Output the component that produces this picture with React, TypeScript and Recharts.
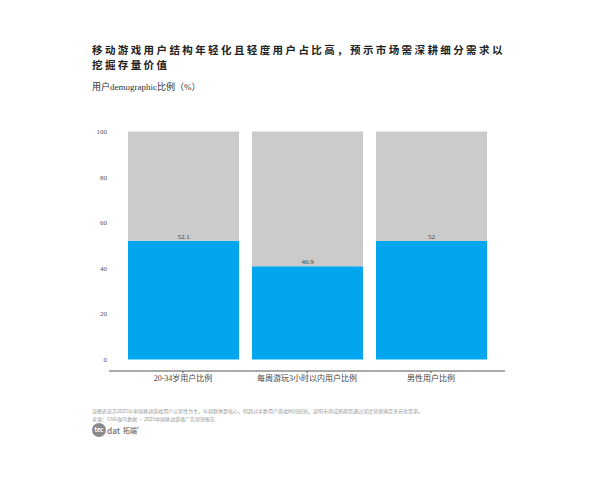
import { BarChart, Bar, XAxis, YAxis, LabelList } from 'recharts';

// categories and share values (%)
const categories = ['20-34岁用户比例', '每周游玩3小时以内用户比例', '男性用户比例'];
const shares = [52.1, 40.9, 52];
const yTicks = [0, 20, 40, 60, 80, 100];

const data = categories.map((name, i) => ({
  name,
  value: shares[i],
  rest: 100 - shares[i],
}));

const serif = '"Liberation Serif", "DejaVu Serif", "Noto Sans CJK SC", serif';
const cjk = '"Noto Sans CJK SC", sans-serif';

const titleStyle = {
  position: 'absolute' as const,
  left: 92,
  fontFamily: cjk,
  fontSize: 10.5,
  lineHeight: '11px',
  letterSpacing: 2.4,
  fontWeight: 600,
  color: '#222',
  whiteSpace: 'nowrap' as const,
};

export default function App() {
  return (
    <div style={{ position: 'absolute', left: 0, top: 0, width: 600, height: 480, background: '#fff', overflow: 'hidden' }}>
      <div style={{ ...titleStyle, top: 44 }}>移动游戏用户结构年轻化且轻度用户占比高，预示市场需深耕细分需求以</div>
      <div style={{ ...titleStyle, top: 59 }}>挖掘存量价值</div>
      <div style={{ position: 'absolute', left: 92, top: 80, fontFamily: serif, fontSize: 9, color: '#333' }}>
        用户demographic比例（%）
      </div>

      <div style={{ position: 'absolute', left: 0, top: 0, fontFamily: serif }}>
        <BarChart
          width={600}
          height={480}
          data={data}
          barSize={111}
          margin={{ top: 120, right: 95, bottom: 89, left: 79 }}
        >
          <XAxis
            dataKey="name"
            height={20}
            padding={{ left: 12, right: 12 }}
            axisLine={{ stroke: '#555', strokeWidth: 1 }}
            tickLine={{ stroke: '#555' }}
            tickSize={2}
            tickMargin={2}
            tick={{ fontSize: 8, fill: '#444', fontFamily: serif }}
            interval={0}
          />
          <YAxis
            width={30}
            domain={[-5, 105]}
            ticks={yTicks}
            axisLine={false}
            tickLine={false}
            tickSize={0}
            tickMargin={2}
            tick={{ fontSize: 7, fill: '#555', fontFamily: serif }}
          />
          <Bar dataKey="value" stackId="a" fill="#02A6EE" isAnimationActive={false} />
          <Bar dataKey="rest" stackId="a" fill="#CBCBCB" isAnimationActive={false}>
            <LabelList
              dataKey="value"
              position="insideBottom"
              offset={2}
              style={{ fontSize: 7, fill: '#444', fontFamily: serif }}
            />
          </Bar>
        </BarChart>
      </div>

      <div
        style={{
          position: 'absolute',
          left: 92,
          top: 407,
          fontFamily: cjk,
          fontSize: 5,
          lineHeight: '8px',
          color: '#9a9a9a',
          whiteSpace: 'nowrap',
        }}
      >
        该图表显示2025年中国移动游戏用户以男性为主，年轻群体是核心，但超过半数用户游戏时间较短，说明市场成熟期需通过深度营销满足多元化需求。
        <br />
        来源：CNG伽马数据 — 2025中国移动游戏广告营销报告
      </div>
      <div style={{ position: 'absolute', left: 92, top: 423, display: 'flex', alignItems: 'center', fontFamily: cjk, color: '#888' }}>
        <div
          style={{
            width: 14,
            height: 14,
            borderRadius: '50%',
            background: '#8a8a8a',
            color: '#fff',
            fontSize: 6,
            fontWeight: 700,
            lineHeight: '14px',
            textAlign: 'center',
          }}
        >
          tec
        </div>
        <span style={{ fontSize: 8, fontWeight: 700, marginLeft: 1 }}>dat</span>
        <span style={{ fontSize: 7, fontWeight: 700, marginLeft: 3 }}>拓端</span>
        <span style={{ fontSize: 4, marginTop: -5 }}>®</span>
      </div>
    </div>
  );
}
